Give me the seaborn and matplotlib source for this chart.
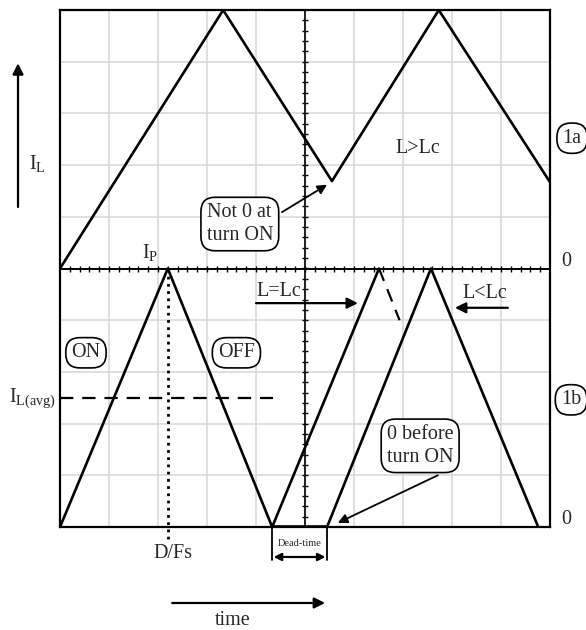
import numpy as np
import pandas as pd
import matplotlib
matplotlib.use("Agg")
import matplotlib.pyplot as plt
import seaborn as sns

# ---------------- data (oscilloscope divisions) ----------------
top_t = [0.0, 3.33, 5.55, 7.73, 10.0]          # 1a: L > Lc
top_i = [5.0, 10.0, 6.69, 10.0, 6.67]

dcm_t = [0.0, 2.20, 4.33]                       # 1b: first cycle
dcm_i = [0.0, 5.0, 0.0]
crit_t = [4.33, 6.51]                           # L = Lc rising edge
crit_i = [0.0, 5.0]
crit_dash_t = [6.51, 6.93]                      # L = Lc falling (dashed)
crit_dash_i = [5.0, 4.0]
low_t = [5.45, 7.57, 9.76]                      # L < Lc
low_i = [0.0, 5.0, 0.0]
dead_t = [4.33, 5.45]                           # dead time
dead_i = [0.0, 0.0]
i_avg = 2.5
d_over_fs = 2.20

sns.set_theme(style="white")
plt.rcParams['font.family'] = ['Liberation Serif', 'DejaVu Serif']
plt.rcParams['mathtext.fontset'] = 'custom'
plt.rcParams['mathtext.rm'] = 'Liberation Serif'
plt.rcParams['mathtext.it'] = 'Liberation Serif:italic'

fig = plt.figure(figsize=(5.86, 6.30), dpi=100)
ax = fig.add_axes([60/586, 1-527/630, 490/586, 517/630])
ax.set_xlim(0, 10)
ax.set_ylim(0, 10)
ax.set_xticks([]); ax.set_yticks([])
for s in ax.spines.values():
    s.set_color('black'); s.set_linewidth(1.6); s.set_zorder(5)

# grid
for k in range(1, 10):
    ax.axvline(k, color='#d6d6d6', lw=1.1, zorder=0)
    ax.axhline(k, color='#d6d6d6', lw=1.1, zorder=0)
# centre crosshair with minor ticks
ax.axvline(5, color='black', lw=1.2, zorder=1)
ax.axhline(5, color='black', lw=1.4, zorder=1)
tk = np.arange(0.2, 10, 0.2)
ax.plot(np.full_like(tk, 5), tk, ls='none', marker='_', ms=5, mew=1.0, color='black', zorder=1)
ax.plot(tk, np.full_like(tk, 5), ls='none', marker='|', ms=5, mew=1.0, color='black', zorder=1)

def draw(t, i, **kw):
    df = pd.DataFrame({'t': t, 'i': i})
    sns.lineplot(data=df, x='t', y='i', ax=ax, sort=False, estimator=None,
                 color='black', **kw)

draw(top_t, top_i, lw=1.9, zorder=3)
draw(dcm_t, dcm_i, lw=1.9, zorder=3)
draw(crit_t, crit_i, lw=1.9, zorder=3)
draw(crit_dash_t, crit_dash_i, lw=1.6, linestyle=(0, (6, 4)), zorder=3)
draw(low_t, low_i, lw=1.9, zorder=3)
draw(dead_t, dead_i, lw=2.6, zorder=4)
ax.set_xlabel(''); ax.set_ylabel('')
ax.set_xlim(0, 10); ax.set_ylim(0, 10)

# I_avg dashed line and D/Fs dotted line
ax.plot([0, 4.35], [i_avg, i_avg], color='black', lw=1.6, ls=(0, (6, 4)), zorder=3)
ax.plot([d_over_fs, d_over_fs], [5, -0.25], color='black', lw=2.0, ls=(0, (1, 1.6)),
        zorder=3, clip_on=False)

FS = 14.5
box = dict(boxstyle='round,pad=0.28,rounding_size=0.7', fc='white', ec='black', lw=1.2)

def txt(x, y, s, size=FS, **kw):
    ax.text(x, y, s, fontsize=size, ha='center', va='center', clip_on=False, **kw)

def arrow(x0, y0, x1, y1, style='-|>', lw=1.3, ms=14):
    ax.annotate('', xy=(x1, y1), xytext=(x0, y0), annotation_clip=False,
                arrowprops=dict(arrowstyle=style, color='black', lw=lw,
                                mutation_scale=ms, shrinkA=0, shrinkB=0))

# left axis arrow and label
arrow(-0.857, 6.19, -0.857, 8.97, lw=1.6, ms=16)
txt(-0.46, 7.04, r'$\mathrm{I}_{\mathrm{L}}$', size=FS)
txt(1.84, 5.30, r'$\mathrm{I}_{\mathrm{P}}$', size=FS)

# annotations 1a
txt(3.67, 5.86, 'Not 0 at\nturn ON', bbox=box, multialignment='left', linespacing=1.3, zorder=6)
arrow(4.53, 6.09, 5.45, 6.62, lw=1.3, ms=14)
txt(7.31, 7.33, 'L>Lc')
txt(10.45, 7.52, '1a', bbox=box)
txt(10.33, 5.13, '0')

# annotations 1b
txt(4.47, 4.55, 'L=Lc')
arrow(4.0, 4.33, 6.08, 4.33, lw=1.6, ms=16)
txt(8.67, 4.52, 'L<Lc')
arrow(9.14, 4.24, 8.06, 4.24, lw=1.6, ms=16)
txt(0.53, 3.37, 'ON', bbox=box)
txt(3.60, 3.37, 'OFF', bbox=box)
txt(-0.56, 2.50, r'$\mathrm{I}_{\mathrm{L(avg)}}$', size=FS)
txt(10.43, 2.46, '1b', bbox=box)
txt(7.35, 1.57, '0 before\nturn ON', bbox=box, multialignment='left', linespacing=1.3, zorder=6)
arrow(7.71, 1.0, 5.67, 0.08, lw=1.3, ms=14)
txt(10.33, 0.14, '0')

# below the plot
txt(2.30, -0.52, 'D/Fs')
for xv in dead_t:
    ax.plot([xv, xv], [0, -0.64], color='black', lw=1.3, clip_on=False)
txt(4.89, -0.31, 'Dead-time', size=7.5)
arrow(4.36, -0.58, 5.42, -0.58, style='<|-|>', lw=1.6, ms=11)
arrow(2.29, -1.47, 5.41, -1.47, lw=1.6, ms=16)
txt(3.53, -1.80, 'time')

fig.savefig('out.png', dpi=100)
